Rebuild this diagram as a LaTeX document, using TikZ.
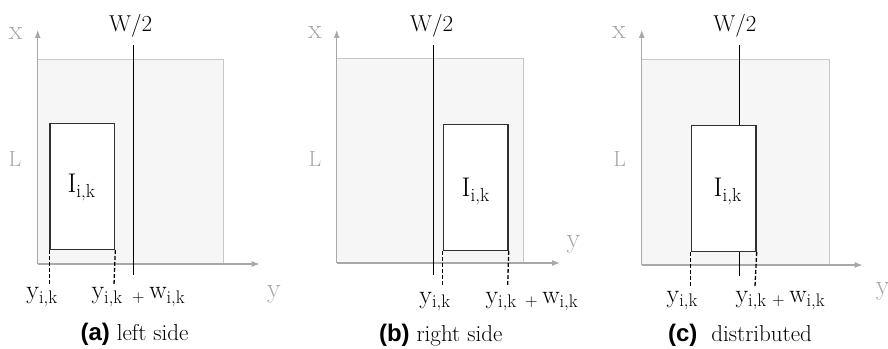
\documentclass[tikz,border=0pt]{standalone}
\usepackage{tikz}
\usetikzlibrary{arrows.meta}
\usepackage{fontspec}
\newfontfamily\capsans{Liberation Sans}
\definecolor{axisgray}{HTML}{A8A8A8}
\definecolor{areafill}{HTML}{F6F6F6}
\definecolor{areaedge}{HTML}{C8C8C8}
\definecolor{itemedge}{HTML}{303030}

\begin{document}
\begin{tikzpicture}[x=1pt, y=1pt,
	every node/.style={inner sep=0pt, anchor=base},
	area/.style={draw=areaedge, fill=areafill, line width=1pt},
	axis/.style={draw=axisgray, line width=1.1pt, -{Latex[length=8pt, width=6pt]}},
	item/.style={draw=itemedge, fill=white, line width=1.3pt, anchor=south west, minimum width=64.7pt, minimum height=126pt},
	half/.style={draw=black, line width=1pt},
	tick/.style={draw=black, line width=1.3pt, dash pattern=on 4pt off 2pt},
	axlbl/.style={text=axisgray, font=\fontsize{28}{28}\selectfont},
	llbl/.style={text=axisgray, font=\fontsize{22}{22}\selectfont},
	wlbl/.style={font=\fontsize{23}{23}\selectfont},
	ilbl/.style={font=\fontsize{27}{27}\selectfont},
	ylbl/.style={font=\fontsize{26}{26}\selectfont},
	caplbl/.style={font=\fontsize{23}{23}\selectfont},
	tagfont/.style={font=\capsans\bfseries\fontsize{24}{24}\selectfont}]
	\useasboundingbox (0,0) rectangle (888,348);
	% (a) left side
	\begin{scope}[shift={(37.7,84)}]
		\draw[area] (0,0) rectangle (185.6,204);
		\coordinate (oa) at (0,0); \coordinate (xa) at (0,234); \coordinate (ya) at (222,0);
		\draw[axis] (oa) -- (xa); \draw[axis] (oa) -- (ya);
		\node[axlbl] (xla) at (-22,224) {x}; \node[axlbl] (yla) at (236.3,-33.7) {y}; \node[llbl] (Lla) at (-22.7,97.3) {L};
		\node[wlbl] (Wla) at (93,232.3) {W/2};
		\coordinate (wta) at (96,219); \coordinate (wba) at (96,-11);
		\draw[half] (wta) -- (wba);
		\node[item] (boxa) at (11.6,14) {};
		\node[ilbl] (Ila) at (43.8,71) {$\mathrm{I_{i,k}}$};
		\coordinate (d1a) at (11.6,-21); \coordinate (d2a) at (76.3,-21);
		\draw[tick] (boxa.south west) -- (d1a); \draw[tick] (boxa.south east) -- (d2a);
		\node[ylbl] (y1a) at (4.3,-35) {$\mathrm{y_{i,k}}$};
		\node[ylbl, anchor=base east] (y2a) at (85.3,-35) {$\mathrm{y_{i,k}}$};
		\node[ylbl, anchor=base west] (w2a) at (94.3,-35) {$_{+}\,\mathrm{w_{i,k}}$};
		\node[caplbl] (capa) at (96.8,-76) {\tikz[baseline]\node[tagfont,anchor=base]{(a)}; left side};
	\end{scope}
	% (b) right side
	\begin{scope}[shift={(336.7,85)}]
		\draw[area] (0,0) rectangle (186.6,204.3);
		\coordinate (ob) at (0,0); \coordinate (xb) at (0,233); \coordinate (yb) at (223.3,0);
		\draw[axis] (ob) -- (xb); \draw[axis] (ob) -- (yb);
		\node[axlbl] (xlb) at (-21.7,224) {x}; \node[axlbl] (ylb) at (236.8,15) {y}; \node[llbl] (Llb) at (-21.7,96.3) {L};
		\node[wlbl] (Wlb) at (95,231.3) {W/2};
		\coordinate (wtb) at (96.6,218); \coordinate (wbb) at (96.6,-12);
		\draw[half] (wtb) -- (wbb);
		\node[item] (boxb) at (106,12) {};
		\node[ilbl] (Ilb) at (139,66) {$\mathrm{I_{i,k}}$};
		\coordinate (d1b) at (106,-22); \coordinate (d2b) at (171,-22);
		\draw[tick] (boxb.south west) -- (d1b); \draw[tick] (boxb.south east) -- (d2b);
		\node[ylbl] (y1b) at (98.3,-40) {$\mathrm{y_{i,k}}$};
		\node[ylbl, anchor=base east] (y2b) at (180.3,-40) {$\mathrm{y_{i,k}}$};
		\node[ylbl, anchor=base west] (w2b) at (188.3,-40) {$_{+}\,\mathrm{w_{i,k}}$};
		\node[caplbl] (capb) at (104,-78) {\tikz[baseline]\node[tagfont,anchor=base]{(b)}; right side};
	\end{scope}
	% (c) distributed
	\begin{scope}[shift={(641.7,83)}]
		\draw[area] (0,0) rectangle (187.3,205);
		\coordinate (oc) at (0,0); \coordinate (xc) at (0,235); \coordinate (yc) at (221,0);
		\draw[axis] (oc) -- (xc); \draw[axis] (oc) -- (yc);
		\node[axlbl] (xlc) at (-22.7,226) {x}; \node[axlbl, anchor=base west] (ylc) at (234,-30) {y}; \node[llbl] (Llc) at (-22,98.3) {L};
		\node[wlbl] (Wlc) at (93.3,233.3) {W/2};
		\coordinate (wtc) at (97.3,220); \coordinate (wbc) at (97.3,-11);
		\draw[half] (wtc) -- (wbc);
		\node[item] (boxc) at (49,13) {};
		\node[ilbl] (Ilc) at (86,68) {$\mathrm{I_{i,k}}$};
		\coordinate (d1c) at (49,-21); \coordinate (d2c) at (113.3,-21);
		\draw[tick] (boxc.south west) -- (d1c); \draw[tick] (boxc.south east) -- (d2c);
		\node[ylbl] (y1c) at (40.6,-37) {$\mathrm{y_{i,k}}$};
		\node[ylbl, anchor=base east] (y2c) at (125.3,-37) {$\mathrm{y_{i,k}}$};
		\node[ylbl, anchor=base west] (w2c) at (130.3,-37) {$_{+}\,\mathrm{w_{i,k}}$};
		\node[caplbl] (capc) at (98.3,-76) {\tikz[baseline]\node[tagfont,anchor=base]{(c)};\ \ distributed};
	\end{scope}
\end{tikzpicture}
\end{document}
